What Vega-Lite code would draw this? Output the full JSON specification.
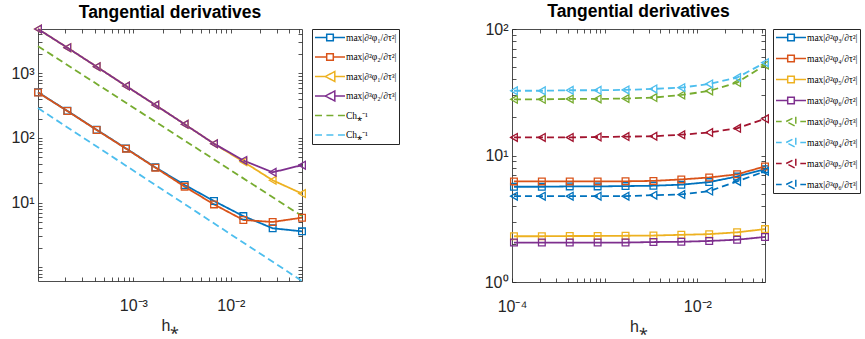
{
  "$schema": "https://vega.github.io/schema/vega-lite/v6.json",
  "background": "white",
  "padding": {"left": 10, "top": 2, "right": 0, "bottom": 0},
  "config": {
    "view": {"stroke": "#4d4d4d", "strokeWidth": 1},
    "font": "Liberation Sans",
    "axis": {"domain": false, "grid": false, "tickSize": -4, "tickColor": "#262626", "tickWidth": 0.8, "labelFont": "Liberation Sans", "labelFontSize": 16, "labelColor": "#262626", "labelFlush": false, "labelOverlap": false, "labelPadding": 8, "titleFont": "Liberation Sans", "titleFontSize": 16, "titleFontWeight": "normal", "titleColor": "#262626", "titlePadding": 4},
    "legend": {"title": null, "orient": "right", "padding": 2, "strokeColor": "#262626", "fillColor": "white", "symbolSize": 900, "symbolStrokeWidth": 1.5, "symbolOpacity": 1, "symbolFillColor": "transparent", "labelFont": "Liberation Serif", "labelFontSize": 9.5, "labelColor": "#000000", "labelOffset": 0, "labelLimit": 200, "clipHeight": 13},
    "title": {"font": "Liberation Sans", "fontSize": 17.5, "fontWeight": "bold", "color": "#000000", "offset": 1, "anchor": "middle", "frame": "group"}
  },
  "datasets": {
    "left": [
      {"h": 0.000105, "v": 508, "s": "L1"}, {"h": 0.00021, "v": 263, "s": "L1"}, {"h": 0.00042, "v": 134, "s": "L1"}, {"h": 0.00084, "v": 69, "s": "L1"}, {"h": 0.00168, "v": 35.2, "s": "L1"}, {"h": 0.00336, "v": 18.8, "s": "L1"}, {"h": 0.00672, "v": 10.6, "s": "L1"}, {"h": 0.01344, "v": 6.2, "s": "L1"}, {"h": 0.02688, "v": 4.02, "s": "L1"}, {"h": 0.05376, "v": 3.6, "s": "L1"},
      {"h": 0.000105, "v": 505, "s": "L2"}, {"h": 0.00021, "v": 261, "s": "L2"}, {"h": 0.00042, "v": 133, "s": "L2"}, {"h": 0.00084, "v": 68.4, "s": "L2"}, {"h": 0.00168, "v": 34.8, "s": "L2"}, {"h": 0.00336, "v": 17.7, "s": "L2"}, {"h": 0.00672, "v": 9.4, "s": "L2"}, {"h": 0.01344, "v": 5.4, "s": "L2"}, {"h": 0.02688, "v": 5.03, "s": "L2"}, {"h": 0.05376, "v": 5.86, "s": "L2"},
      {"h": 0.000105, "v": 4840, "s": "L3"}, {"h": 0.00021, "v": 2490, "s": "L3"}, {"h": 0.00042, "v": 1265, "s": "L3"}, {"h": 0.00084, "v": 637, "s": "L3"}, {"h": 0.00168, "v": 324, "s": "L3"}, {"h": 0.00336, "v": 163, "s": "L3"}, {"h": 0.00672, "v": 81.6, "s": "L3"}, {"h": 0.01344, "v": 43, "s": "L3"}, {"h": 0.02688, "v": 22.2, "s": "L3"}, {"h": 0.05376, "v": 13.8, "s": "L3"},
      {"h": 0.000105, "v": 4840, "s": "L4"}, {"h": 0.00021, "v": 2490, "s": "L4"}, {"h": 0.00042, "v": 1265, "s": "L4"}, {"h": 0.00084, "v": 637, "s": "L4"}, {"h": 0.00168, "v": 324, "s": "L4"}, {"h": 0.00336, "v": 163, "s": "L4"}, {"h": 0.00672, "v": 81.6, "s": "L4"}, {"h": 0.01344, "v": 45, "s": "L4"}, {"h": 0.02688, "v": 29.5, "s": "L4"}, {"h": 0.05376, "v": 38, "s": "L4"},
      {"h": 0.000105, "v": 2630, "s": "L5"}, {"h": 0.05376, "v": 6.2, "s": "L5"},
      {"h": 0.000105, "v": 290, "s": "L6"}, {"h": 0.05376, "v": 0.615, "s": "L6"}
    ],
    "right": [
      {"h": 0.000105, "v": 5.66, "s": "R1"}, {"h": 0.00021, "v": 5.66, "s": "R1"}, {"h": 0.00042, "v": 5.7, "s": "R1"}, {"h": 0.00084, "v": 5.7, "s": "R1"}, {"h": 0.00168, "v": 5.73, "s": "R1"}, {"h": 0.00336, "v": 5.77, "s": "R1"}, {"h": 0.00672, "v": 5.88, "s": "R1"}, {"h": 0.01344, "v": 6.16, "s": "R1"}, {"h": 0.02688, "v": 6.83, "s": "R1"}, {"h": 0.05376, "v": 7.8, "s": "R1"},
      {"h": 0.000105, "v": 6.24, "s": "R2"}, {"h": 0.00021, "v": 6.24, "s": "R2"}, {"h": 0.00042, "v": 6.24, "s": "R2"}, {"h": 0.00084, "v": 6.24, "s": "R2"}, {"h": 0.00168, "v": 6.25, "s": "R2"}, {"h": 0.00336, "v": 6.3, "s": "R2"}, {"h": 0.00672, "v": 6.47, "s": "R2"}, {"h": 0.01344, "v": 6.7, "s": "R2"}, {"h": 0.02688, "v": 7.1, "s": "R2"}, {"h": 0.05376, "v": 8.2, "s": "R2"},
      {"h": 0.000105, "v": 2.3, "s": "R3"}, {"h": 0.00021, "v": 2.3, "s": "R3"}, {"h": 0.00042, "v": 2.31, "s": "R3"}, {"h": 0.00084, "v": 2.31, "s": "R3"}, {"h": 0.00168, "v": 2.32, "s": "R3"}, {"h": 0.00336, "v": 2.33, "s": "R3"}, {"h": 0.00672, "v": 2.36, "s": "R3"}, {"h": 0.01344, "v": 2.39, "s": "R3"}, {"h": 0.02688, "v": 2.47, "s": "R3"}, {"h": 0.05376, "v": 2.62, "s": "R3"},
      {"h": 0.000105, "v": 2.05, "s": "R4"}, {"h": 0.00021, "v": 2.05, "s": "R4"}, {"h": 0.00042, "v": 2.05, "s": "R4"}, {"h": 0.00084, "v": 2.05, "s": "R4"}, {"h": 0.00168, "v": 2.05, "s": "R4"}, {"h": 0.00336, "v": 2.07, "s": "R4"}, {"h": 0.00672, "v": 2.08, "s": "R4"}, {"h": 0.01344, "v": 2.11, "s": "R4"}, {"h": 0.02688, "v": 2.16, "s": "R4"}, {"h": 0.05376, "v": 2.27, "s": "R4"},
      {"h": 0.000105, "v": 27.8, "s": "R5"}, {"h": 0.00021, "v": 27.8, "s": "R5"}, {"h": 0.00042, "v": 28.0, "s": "R5"}, {"h": 0.00084, "v": 28.0, "s": "R5"}, {"h": 0.00168, "v": 28.2, "s": "R5"}, {"h": 0.00336, "v": 28.7, "s": "R5"}, {"h": 0.00672, "v": 30.1, "s": "R5"}, {"h": 0.01344, "v": 32.4, "s": "R5"}, {"h": 0.02688, "v": 37.7, "s": "R5"}, {"h": 0.05376, "v": 52.0, "s": "R5"},
      {"h": 0.000105, "v": 32.5, "s": "R6"}, {"h": 0.00021, "v": 32.5, "s": "R6"}, {"h": 0.00042, "v": 32.8, "s": "R6"}, {"h": 0.00084, "v": 32.8, "s": "R6"}, {"h": 0.00168, "v": 33.0, "s": "R6"}, {"h": 0.00336, "v": 33.6, "s": "R6"}, {"h": 0.00672, "v": 34.4, "s": "R6"}, {"h": 0.01344, "v": 36.8, "s": "R6"}, {"h": 0.02688, "v": 41.3, "s": "R6"}, {"h": 0.05376, "v": 54.2, "s": "R6"},
      {"h": 0.000105, "v": 13.9, "s": "R7"}, {"h": 0.00021, "v": 13.9, "s": "R7"}, {"h": 0.00042, "v": 13.9, "s": "R7"}, {"h": 0.00084, "v": 14.0, "s": "R7"}, {"h": 0.00168, "v": 14.1, "s": "R7"}, {"h": 0.00336, "v": 14.2, "s": "R7"}, {"h": 0.00672, "v": 14.6, "s": "R7"}, {"h": 0.01344, "v": 15.2, "s": "R7"}, {"h": 0.02688, "v": 16.4, "s": "R7"}, {"h": 0.05376, "v": 19.5, "s": "R7"},
      {"h": 0.000105, "v": 4.77, "s": "R8"}, {"h": 0.00021, "v": 4.77, "s": "R8"}, {"h": 0.00042, "v": 4.77, "s": "R8"}, {"h": 0.00084, "v": 4.77, "s": "R8"}, {"h": 0.00168, "v": 4.77, "s": "R8"}, {"h": 0.00336, "v": 4.86, "s": "R8"}, {"h": 0.00672, "v": 4.92, "s": "R8"}, {"h": 0.01344, "v": 5.23, "s": "R8"}, {"h": 0.02688, "v": 6.24, "s": "R8"}, {"h": 0.05376, "v": 7.5, "s": "R8"}
    ]
  },
  "resolve": {"scale": {"x": "independent", "y": "independent", "color": "independent", "shape": "independent", "strokeDash": "independent"}, "legend": {"color": "independent", "shape": "independent"}},
  "align": "none",
  "spacing": 83,
  "hconcat": [
    {
      "title": "Tangential derivatives",
      "width": 264,
      "height": 252,
      "data": {"name": "left"},
      "encoding": {
        "x": {"field": "h", "type": "quantitative", "scale": {"type": "log", "domain": [0.000105, 0.05376], "nice": false}, "axis": null},
        "y": {"field": "v", "type": "quantitative", "scale": {"type": "log", "domain": [0.615, 4840], "nice": false}, "axis": null},
        "color": {"field": "s", "type": "nominal",
                  "scale": {"domain": ["L1", "L2", "L3", "L4", "L5", "L6"], "range": ["#0072BD", "#D95319", "#EDB120", "#7E2F8E", "#77AC30", "#4DBEEE"]},
                  "legend": {"offset": 6, "rowPadding": 6.5,
                             "labelExpr": "datum.value == 'L1' ? 'max|∂²φ₁/∂τ²|' : datum.value == 'L2' ? 'max|∂²φ₂/∂τ²|' : datum.value == 'L3' ? 'max|∂³φ₁/∂τ³|' : datum.value == 'L4' ? 'max|∂³φ₂/∂τ³|' : 'Ch⁎⁻¹'"}}
      },
      "layer": [
        {"mark": {"type": "line", "strokeWidth": 1.8},
         "encoding": {
           "x": {"field": "h", "type": "quantitative", "scale": {"type": "log", "domain": [0.000105, 0.05376], "nice": false},
                 "axis": {"orient": "bottom", "labelPadding": 20, "values": [0.0002, 0.0003, 0.0004, 0.0005, 0.0006, 0.0007, 0.0008, 0.0009, 0.001, 0.002, 0.003, 0.004, 0.005, 0.006, 0.007, 0.008, 0.009, 0.01, 0.02, 0.03, 0.04, 0.05],
                          "labelExpr": "datum.value == 0.001 ? '10⁻³' : datum.value == 0.01 ? '10⁻²' : ''"},
                 "title": "h⁎"},
           "y": {"field": "v", "type": "quantitative", "scale": {"type": "log", "domain": [0.615, 4840], "nice": false},
                 "axis": {"orient": "left", "values": [0.7, 0.8, 0.9, 1, 2, 3, 4, 5, 6, 7, 8, 9, 10, 20, 30, 40, 50, 60, 70, 80, 90, 100, 200, 300, 400, 500, 600, 700, 800, 900, 1000, 2000, 3000, 4000],
                          "labelExpr": "datum.value == 10 ? '10¹' : datum.value == 100 ? '10²' : datum.value == 1000 ? '10³' : ''"},
                 "title": null},
           "strokeDash": {"field": "s", "type": "nominal", "scale": {"domain": ["L1", "L2", "L3", "L4", "L5", "L6"], "range": [[1, 0], [1, 0], [1, 0], [1, 0], [7, 4], [7, 4]]}, "legend": null}}},
        {"transform": [{"filter": "datum.s == 'L1' || datum.s == 'L2'"}],
         "mark": {"type": "point", "shape": "square", "filled": false, "size": 45, "strokeWidth": 1.3, "opacity": 1}},
        {"transform": [{"filter": "datum.s == 'L3' || datum.s == 'L4'"}],
         "mark": {"type": "point", "shape": "triangle-left", "filled": false, "size": 60, "strokeWidth": 1.3, "opacity": 1}},
        {"mark": {"type": "point", "filled": false, "opacity": 0},
         "encoding": {
           "shape": {"field": "s", "type": "nominal",
                     "scale": {"domain": ["L1", "L2", "L3", "L4", "L5", "L6"],
                               "range": ["M-1,0H-0.22M0.22,0H1M-0.22,-0.22H0.22V0.22H-0.22Z", "M-1,0H-0.22M0.22,0H1M-0.22,-0.22H0.22V0.22H-0.22Z", "M-1,0H-0.32M0.32,0H1M-0.32,0L0.32,-0.33L0.32,0.33Z", "M-1,0H-0.32M0.32,0H1M-0.32,0L0.32,-0.33L0.32,0.33Z", "M-1,0H-0.53M-0.24,0H0.24M0.53,0H1", "M-1,0H-0.53M-0.24,0H0.24M0.53,0H1"]},
                     "legend": {"offset": 6, "rowPadding": 6.5,
                                "labelExpr": "datum.value == 'L1' ? 'max|∂²φ₁/∂τ²|' : datum.value == 'L2' ? 'max|∂²φ₂/∂τ²|' : datum.value == 'L3' ? 'max|∂³φ₁/∂τ³|' : datum.value == 'L4' ? 'max|∂³φ₂/∂τ³|' : 'Ch⁎⁻¹'"}},
           "x": {"field": "h", "type": "quantitative", "scale": {"type": "log", "domain": [0.000105, 0.05376], "nice": false},
                 "axis": {"orient": "top", "labels": false, "title": null, "values": [0.0002, 0.0003, 0.0004, 0.0005, 0.0006, 0.0007, 0.0008, 0.0009, 0.001, 0.002, 0.003, 0.004, 0.005, 0.006, 0.007, 0.008, 0.009, 0.01, 0.02, 0.03, 0.04, 0.05]}},
           "y": {"field": "v", "type": "quantitative", "scale": {"type": "log", "domain": [0.615, 4840], "nice": false},
                 "axis": {"orient": "right", "labels": false, "title": null, "values": [0.7, 0.8, 0.9, 1, 2, 3, 4, 5, 6, 7, 8, 9, 10, 20, 30, 40, 50, 60, 70, 80, 90, 100, 200, 300, 400, 500, 600, 700, 800, 900, 1000, 2000, 3000, 4000]}}
         }}
      ],
      "resolve": {"axis": {"x": "independent", "y": "independent"}}
    },
    {
      "title": "Tangential derivatives",
      "width": 253,
      "height": 253,
      "data": {"name": "right"},
      "encoding": {
        "x": {"field": "h", "type": "quantitative", "scale": {"type": "log", "domain": [0.0001, 0.05376], "nice": false}, "axis": null},
        "y": {"field": "v", "type": "quantitative", "scale": {"type": "log", "domain": [1, 100], "nice": false}, "axis": null},
        "color": {"field": "s", "type": "nominal",
                  "scale": {"domain": ["R1", "R2", "R3", "R4", "R5", "R6", "R7", "R8"], "range": ["#0072BD", "#D95319", "#EDB120", "#7E2F8E", "#77AC30", "#4DBEEE", "#A2142F", "#0072BD"]},
                  "legend": {"offset": 4, "rowPadding": 8,
                             "labelExpr": "datum.value == 'R1' ? 'max|∂²φ₃/∂τ²|' : datum.value == 'R2' ? 'max|∂²φ₄/∂τ²|' : datum.value == 'R3' ? 'max|∂²φ₅/∂τ²|' : datum.value == 'R4' ? 'max|∂²φ₆/∂τ²|' : datum.value == 'R5' ? 'max|∂³φ₃/∂τ³|' : datum.value == 'R6' ? 'max|∂³φ₄/∂τ³|' : datum.value == 'R7' ? 'max|∂³φ₅/∂τ³|' : 'max|∂³φ₆/∂τ³|'"}}
      },
      "layer": [
        {"mark": {"type": "line", "strokeWidth": 1.8},
         "encoding": {
           "x": {"field": "h", "type": "quantitative", "scale": {"type": "log", "domain": [0.0001, 0.05376], "nice": false},
                 "axis": {"orient": "bottom", "labelPadding": 20, "values": [0.0001, 0.0002, 0.0003, 0.0004, 0.0005, 0.0006, 0.0007, 0.0008, 0.0009, 0.001, 0.002, 0.003, 0.004, 0.005, 0.006, 0.007, 0.008, 0.009, 0.01, 0.02, 0.03, 0.04, 0.05],
                          "labelExpr": "datum.value == 0.0001 ? '10⁻⁴' : datum.value == 0.01 ? '10⁻²' : ''"},
                 "title": "h⁎"},
           "y": {"field": "v", "type": "quantitative", "scale": {"type": "log", "domain": [1, 100], "nice": false},
                 "axis": {"orient": "left", "values": [1, 2, 3, 4, 5, 6, 7, 8, 9, 10, 20, 30, 40, 50, 60, 70, 80, 90, 100],
                          "labelExpr": "datum.value == 1 ? '10⁰' : datum.value == 10 ? '10¹' : datum.value == 100 ? '10²' : ''"},
                 "title": null},
           "strokeDash": {"field": "s", "type": "nominal", "scale": {"domain": ["R1", "R2", "R3", "R4", "R5", "R6", "R7", "R8"], "range": [[1, 0], [1, 0], [1, 0], [1, 0], [7, 4], [7, 4], [7, 4], [7, 4]]}, "legend": null}}},
        {"transform": [{"filter": "datum.s == 'R1' || datum.s == 'R2' || datum.s == 'R3' || datum.s == 'R4'"}],
         "mark": {"type": "point", "shape": "square", "filled": false, "size": 45, "strokeWidth": 1.3, "opacity": 1}},
        {"transform": [{"filter": "datum.s == 'R5' || datum.s == 'R6' || datum.s == 'R7' || datum.s == 'R8'"}],
         "mark": {"type": "point", "shape": "triangle-left", "filled": false, "size": 60, "strokeWidth": 1.3, "opacity": 1}},
        {"mark": {"type": "point", "filled": false, "opacity": 0},
         "encoding": {
           "shape": {"field": "s", "type": "nominal",
                     "scale": {"domain": ["R1", "R2", "R3", "R4", "R5", "R6", "R7", "R8"],
                               "range": ["M-1,0H-0.22M0.22,0H1M-0.22,-0.22H0.22V0.22H-0.22Z", "M-1,0H-0.22M0.22,0H1M-0.22,-0.22H0.22V0.22H-0.22Z", "M-1,0H-0.22M0.22,0H1M-0.22,-0.22H0.22V0.22H-0.22Z", "M-1,0H-0.22M0.22,0H1M-0.22,-0.22H0.22V0.22H-0.22Z", "M-1,0H-0.62M0.62,0H1M-0.32,0L0.32,-0.33L0.32,0.33Z", "M-1,0H-0.62M0.62,0H1M-0.32,0L0.32,-0.33L0.32,0.33Z", "M-1,0H-0.62M0.62,0H1M-0.32,0L0.32,-0.33L0.32,0.33Z", "M-1,0H-0.62M0.62,0H1M-0.32,0L0.32,-0.33L0.32,0.33Z"]},
                     "legend": {"offset": 4, "rowPadding": 8,
                                "labelExpr": "datum.value == 'R1' ? 'max|∂²φ₃/∂τ²|' : datum.value == 'R2' ? 'max|∂²φ₄/∂τ²|' : datum.value == 'R3' ? 'max|∂²φ₅/∂τ²|' : datum.value == 'R4' ? 'max|∂²φ₆/∂τ²|' : datum.value == 'R5' ? 'max|∂³φ₃/∂τ³|' : datum.value == 'R6' ? 'max|∂³φ₄/∂τ³|' : datum.value == 'R7' ? 'max|∂³φ₅/∂τ³|' : 'max|∂³φ₆/∂τ³|'"}},
           "x": {"field": "h", "type": "quantitative", "scale": {"type": "log", "domain": [0.0001, 0.05376], "nice": false},
                 "axis": {"orient": "top", "labels": false, "title": null, "values": [0.0001, 0.0002, 0.0003, 0.0004, 0.0005, 0.0006, 0.0007, 0.0008, 0.0009, 0.001, 0.002, 0.003, 0.004, 0.005, 0.006, 0.007, 0.008, 0.009, 0.01, 0.02, 0.03, 0.04, 0.05]}},
           "y": {"field": "v", "type": "quantitative", "scale": {"type": "log", "domain": [1, 100], "nice": false},
                 "axis": {"orient": "right", "labels": false, "title": null, "values": [1, 2, 3, 4, 5, 6, 7, 8, 9, 10, 20, 30, 40, 50, 60, 70, 80, 90, 100]}}
         }}
      ],
      "resolve": {"axis": {"x": "independent", "y": "independent"}}
    }
  ]
}
